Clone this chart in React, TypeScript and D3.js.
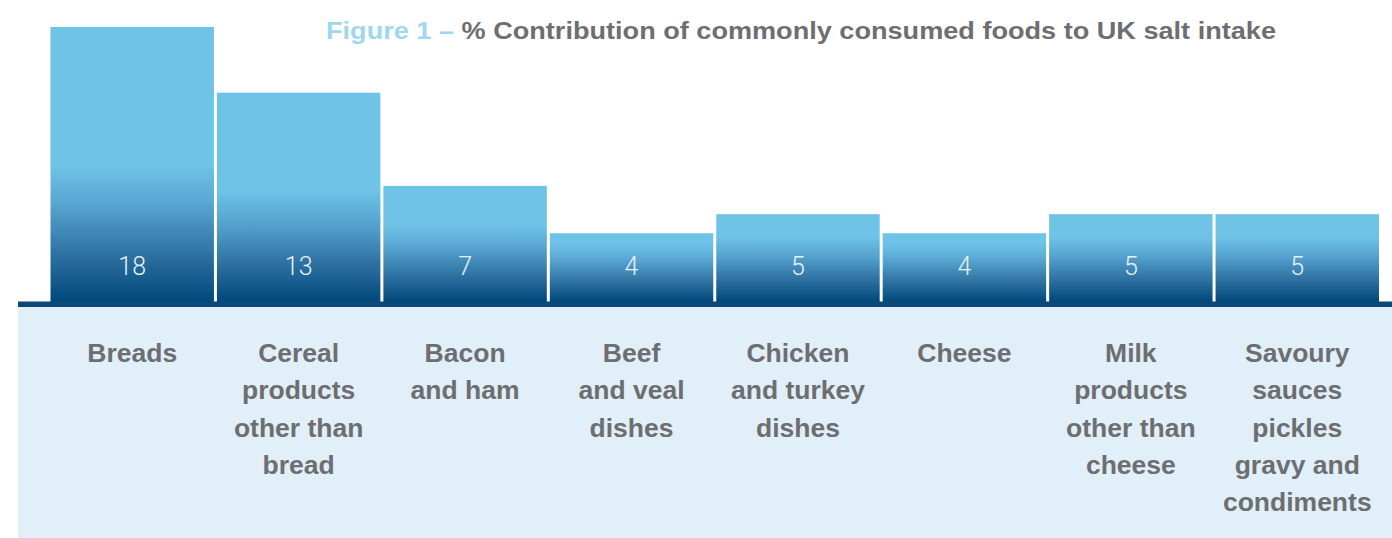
import React from "react";
import * as d3 from "d3";

const categories = [
  "Breads",
  "Cereal products other than bread",
  "Bacon and ham",
  "Beef and veal dishes",
  "Chicken and turkey dishes",
  "Cheese",
  "Milk products other than cheese",
  "Savoury sauces pickles gravy and condiments",
];
const categoryLines = [
  ["Breads"],
  ["Cereal", "products", "other than", "bread"],
  ["Bacon", "and ham"],
  ["Beef", "and veal", "dishes"],
  ["Chicken", "and turkey", "dishes"],
  ["Cheese"],
  ["Milk", "products", "other than", "cheese"],
  ["Savoury", "sauces", "pickles", "gravy and", "condiments"],
];
// bar heights as drawn (percent contribution)
const values = [18, 13.7, 7.6, 4.5, 5.75, 4.5, 5.75, 5.75];
// value labels printed on the bars
const valueLabels = ["18", "13", "7", "4", "5", "4", "5", "5"];
const titleLead = "Figure 1 –";
const titleRest = " % Contribution of commonly consumed foods to UK salt intake";

const W = 1392;
const H = 538;

export default function App() {
  const x = d3
    .scaleBand<string>()
    .domain(categories)
    .range([50.5, 1379])
    .paddingInner(0.018)
    .paddingOuter(0);
  const y = d3.scaleLinear().domain([0, 18]).range([302, 27]);
  const base = y(0);

  return (
    <svg
      width={W}
      height={H}
      style={{ position: "absolute", left: 0, top: 0, background: "#fff" }}
    >
      <defs>
        {categories.map((c, i) => {
          const h = base - y(values[i]);
          const top = base - (32 + 0.38 * h);
          return (
            <linearGradient
              key={c}
              id={"barGrad" + i}
              gradientUnits="userSpaceOnUse"
              x1="0"
              y1={base}
              x2="0"
              y2={top}
            >
              <stop offset="0" stopColor="#00477a" />
              <stop offset="0.35" stopColor="#2e72a2" />
              <stop offset="0.72" stopColor="#58a5d1" />
              <stop offset="1" stopColor="#6ec3e7" />
            </linearGradient>
          );
        })}
      </defs>
      <rect x={18} y={307} width={W - 18} height={H - 307} fill="#e1eff8" />
      {categories.map((c, i) => (
        <rect
          key={c}
          x={x(c)}
          y={y(values[i])}
          width={x.bandwidth()}
          height={base - y(values[i])}
          fill={`url(#barGrad${i})`}
        />
      ))}
      <rect x={18} y={301.5} width={W - 18} height={5.5} fill="#0b4a78" />
      {categories.map((c, i) => (
        <text
          key={c + "v"}
          x={(x(c) as number) + x.bandwidth() / 2}
          y={275}
          textAnchor="middle"
          fontFamily="Roboto, sans-serif"
          fontWeight={300}
          fontSize={25}
          fill="#e4f1f8"
        >
          {valueLabels[i]}
        </text>
      ))}
      {categories.map((c, i) => (
        <text
          key={c + "c"}
          textAnchor="middle"
          fontFamily="'Liberation Sans', Arial, sans-serif"
          fontWeight={700}
          fontSize={26.5}
          fill="#6d6e71"
        >
          {categoryLines[i].map((l, j) => (
            <tspan key={j} x={(x(c) as number) + x.bandwidth() / 2} y={362 + j * 37.3}>
              {l}
            </tspan>
          ))}
        </text>
      ))}
      <text
        x={326}
        y={38.5}
        fontFamily="'Liberation Sans', Arial, sans-serif"
        fontWeight={700}
        fontSize={23}
        textLength={950}
        lengthAdjust="spacingAndGlyphs"
      >
        <tspan fill="#9fd6f0">{titleLead}</tspan>
        <tspan fill="#6d6e71">{titleRest}</tspan>
      </text>
    </svg>
  );
}
